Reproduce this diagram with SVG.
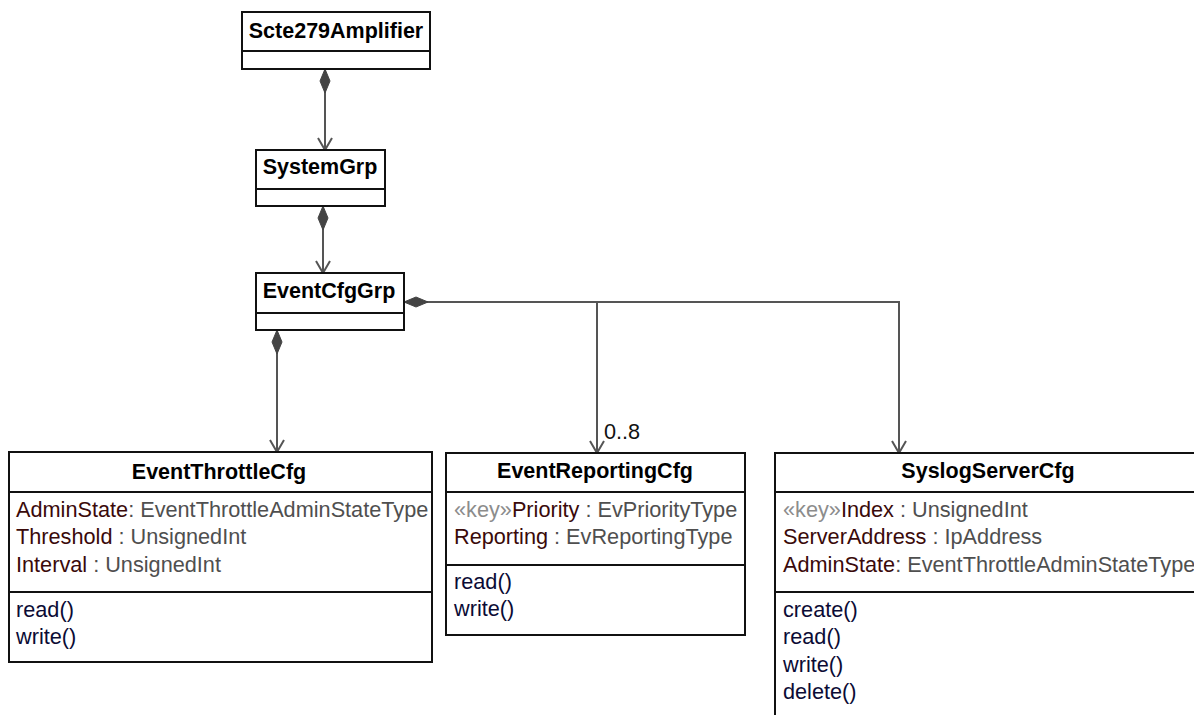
<svg xmlns="http://www.w3.org/2000/svg" width="1194" height="715" viewBox="0 0 1194 715">
  <style>
    .box { fill: #ffffff; stroke: #111111; stroke-width: 2; }
    .sep { stroke: #111111; stroke-width: 2; }
    .title { font-family: "Liberation Sans", Arial, sans-serif; font-size: 21.5px; font-weight: bold; fill: #000000; text-anchor: middle; }
    .txt { font-family: "Liberation Sans", Arial, sans-serif; font-size: 21.7px; }
    .nm { fill: #3a0a0a; }
    .ty { fill: #4f4f4f; }
    .key { fill: #8c8c8c; }
    .op { fill: #0b0b35; }
    .conn { fill: none; stroke: #555555; stroke-width: 2; }
    .mult { font-family: "Liberation Sans", Arial, sans-serif; font-size: 21.7px; fill: #111111; }
  </style>
  <defs>
    <marker id="diamond" markerUnits="userSpaceOnUse" viewBox="0 -6 26 12" markerWidth="26" markerHeight="12" refX="0" refY="0" orient="auto">
      <path d="M0,0 L12,-5 L24,0 L12,5 Z" fill="#444444" stroke="#444444" stroke-width="1"/>
    </marker>
    <marker id="open" markerUnits="userSpaceOnUse" viewBox="-14 -9 16 18" markerWidth="16" markerHeight="18" refX="0" refY="0" orient="auto">
      <path d="M-12,-7 L0,0 L-12,7" fill="none" stroke="#555555" stroke-width="2"/>
    </marker>
  </defs>

  <g id="connectors">
    <path class="conn" d="M325,69 V150" marker-start="url(#diamond)" marker-end="url(#open)"/>
    <path class="conn" d="M323,206 V273" marker-start="url(#diamond)" marker-end="url(#open)"/>
    <path class="conn" d="M277,330 V452" marker-start="url(#diamond)" marker-end="url(#open)"/>
    <path class="conn" d="M404,302 H899 V453" marker-start="url(#diamond)" marker-end="url(#open)"/>
    <path class="conn" d="M597,302 V453" marker-end="url(#open)"/>
    <text class="mult" x="604" y="439">0..8</text>
  </g>

  <g id="Scte279Amplifier">
    <rect class="box" x="242" y="12" width="188" height="57"/>
    <line class="sep" x1="242" y1="51" x2="430" y2="51"/>
    <text class="title" x="336" y="38">Scte279Amplifier</text>
  </g>

  <g id="SystemGrp">
    <rect class="box" x="256" y="150" width="129" height="56"/>
    <line class="sep" x1="256" y1="189" x2="385" y2="189"/>
    <text class="title" x="320" y="174">SystemGrp</text>
  </g>

  <g id="EventCfgGrp">
    <rect class="box" x="256" y="273" width="148" height="57"/>
    <line class="sep" x1="256" y1="313" x2="404" y2="313"/>
    <text class="title" x="329" y="298">EventCfgGrp</text>
  </g>

  <g id="EventThrottleCfg">
    <rect class="box" x="9" y="452" width="423" height="210"/>
    <line class="sep" x1="9" y1="492" x2="432" y2="492"/>
    <line class="sep" x1="9" y1="592" x2="432" y2="592"/>
    <text class="title" x="219" y="479">EventThrottleCfg</text>
    <text class="txt" x="16" y="517"><tspan class="nm">AdminState</tspan><tspan class="ty">: EventThrottleAdminStateType</tspan></text>
    <text class="txt" x="16" y="544"><tspan class="nm">Threshold </tspan><tspan class="ty">: UnsignedInt</tspan></text>
    <text class="txt" x="16" y="572"><tspan class="nm">Interval </tspan><tspan class="ty">: UnsignedInt</tspan></text>
    <text class="txt op" x="16" y="617">read()</text>
    <text class="txt op" x="16" y="644">write()</text>
  </g>

  <g id="EventReportingCfg">
    <rect class="box" x="446" y="453" width="299" height="182"/>
    <line class="sep" x1="446" y1="492" x2="745" y2="492"/>
    <line class="sep" x1="446" y1="565" x2="745" y2="565"/>
    <text class="title" x="595" y="478">EventReportingCfg</text>
    <text class="txt" x="454" y="517"><tspan class="key">«key»</tspan><tspan class="nm">Priority </tspan><tspan class="ty">: EvPriorityType</tspan></text>
    <text class="txt" x="454" y="544"><tspan class="nm">Reporting </tspan><tspan class="ty">: EvReportingType</tspan></text>
    <text class="txt op" x="454" y="589">read()</text>
    <text class="txt op" x="454" y="616">write()</text>
  </g>

  <g id="SyslogServerCfg">
    <rect class="box" x="775" y="453" width="426" height="280"/>
    <line class="sep" x1="775" y1="492" x2="1201" y2="492"/>
    <line class="sep" x1="775" y1="592" x2="1201" y2="592"/>
    <text class="title" x="988" y="478">SyslogServerCfg</text>
    <text class="txt" x="783" y="517"><tspan class="key">«key»</tspan><tspan class="nm">Index </tspan><tspan class="ty">: UnsignedInt</tspan></text>
    <text class="txt" x="783" y="544"><tspan class="nm">ServerAddress </tspan><tspan class="ty"> : IpAddress</tspan></text>
    <text class="txt" x="783" y="572"><tspan class="nm">AdminState</tspan><tspan class="ty">: EventThrottleAdminStateType</tspan></text>
    <text class="txt op" x="783" y="617">create()</text>
    <text class="txt op" x="783" y="644">read()</text>
    <text class="txt op" x="783" y="672">write()</text>
    <text class="txt op" x="783" y="699">delete()</text>
  </g>
</svg>
